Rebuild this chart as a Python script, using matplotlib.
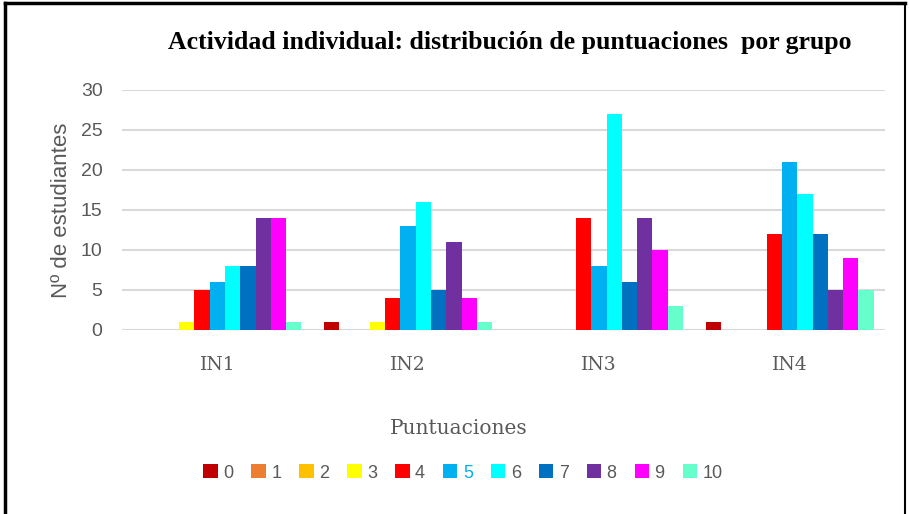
import matplotlib
matplotlib.use('Agg')
import matplotlib.pyplot as plt
import numpy as np

grupos = ['IN1', 'IN2', 'IN3', 'IN4']
puntuaciones = ['0', '1', '2', '3', '4', '5', '6', '7', '8', '9', '10']
# filas: puntuación 0..10, columnas: IN1..IN4
p0 = [0, 1, 0, 1]
p1 = [0, 0, 0, 0]
p2 = [0, 0, 0, 0]
p3 = [1, 1, 0, 0]
p4 = [5, 4, 14, 12]
p5 = [6, 13, 8, 21]
p6 = [8, 16, 27, 17]
p7 = [8, 5, 6, 12]
p8 = [14, 11, 14, 5]
p9 = [14, 4, 10, 9]
p10 = [1, 1, 3, 5]
series = [p0, p1, p2, p3, p4, p5, p6, p7, p8, p9, p10]

colores = ['#C00000', '#ED7D31', '#FFC000', '#FFFF00', '#FF0000', '#00B0F0',
           '#00FFFF', '#0070C0', '#7030A0', '#FF00FF', '#66FFCC']

gris = '#595959'

fig = plt.figure(figsize=(9.09, 5.14), dpi=100)
ax = fig.add_axes([122/909, 1-330/514, 763/909, 240/514])

x = np.arange(len(grupos))
ancho = 0.08
for i, vals in enumerate(series):
    ax.bar(x + (i - 5) * ancho, vals, ancho, color=colores[i], label=puntuaciones[i], zorder=3)

ax.set_xlim(-0.5, 3.5)
ax.set_ylim(0, 30)
ax.set_yticks(range(0, 31, 5))
ax.grid(axis='y', color='#D9D9D9', linewidth=1.5, zorder=0)
for s in ax.spines.values():
    s.set_visible(False)
ax.tick_params(length=0)
ax.set_xticks(x)
ax.set_xticklabels(grupos, fontsize=13.5, family='DejaVu Serif', color=gris)
ax.tick_params(axis='x', pad=19)
ax.tick_params(axis='y', pad=14)
for t in ax.get_yticklabels():
    t.set_fontsize(14)
    t.set_family('Liberation Sans')
    t.set_color(gris)

ax.set_ylabel('Nº de estudiantes', fontsize=16, family='Liberation Sans', color=gris, labelpad=6)

fig.text(510/909, 1-43/514, 'Actividad individual: distribución de puntuaciones  por grupo',
         ha='center', va='center', fontsize=18.5, fontweight='bold', family='Liberation Serif', color='black')
fig.text(459/909, 1-428/514, 'Puntuaciones', ha='center', va='center', fontsize=14.5,
         family='DejaVu Serif', color=gris)

leg = fig.legend(loc='center', bbox_to_anchor=(463/909, 1-473/514), ncol=11, frameon=False,
                 handlelength=0.8, handleheight=0.8, handletextpad=0.3, columnspacing=1.0,
                 prop={'family': 'Liberation Sans', 'size': 13})
for i, t in enumerate(leg.get_texts()):
    t.set_color('#00B0F0' if i == 5 else gris)

# marco de la imagen
fig.add_artist(plt.Line2D([5/909, 5/909], [0, 1-3/514], color='black', linewidth=2.5))
fig.add_artist(plt.Line2D([5/909, 905/909], [1-3/514, 1-3/514], color='black', linewidth=2.5))
fig.add_artist(plt.Line2D([905/909, 905/909], [1-3/514, 0], color='black', linewidth=1.5))

fig.savefig('out.png', dpi=100)
